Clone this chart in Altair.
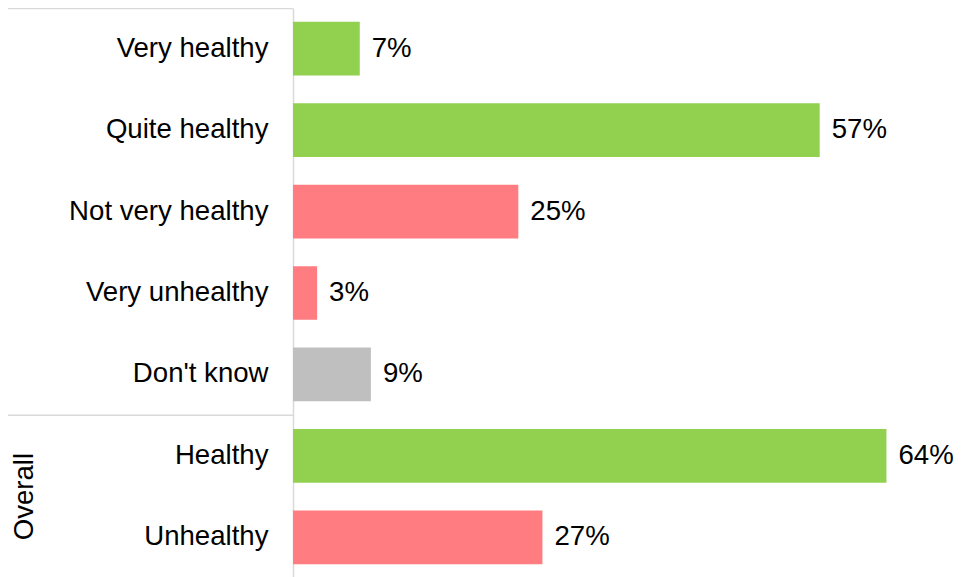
import altair as alt
import pandas as pd

categories = ["Very healthy", "Quite healthy", "Not very healthy", "Very unhealthy",
              "Don't know", "Healthy", "Unhealthy"]
values = [7.2, 56.8, 24.3, 2.6, 8.4, 64.0, 26.9]
labels = ["7%", "57%", "25%", "3%", "9%", "64%", "27%"]
groups = ["positive", "positive", "negative", "negative", "neutral", "positive", "negative"]

group_names = ["positive", "negative", "neutral"]
group_colors = ["#92D050", "#FF7C80", "#BFBFBF"]

df = pd.DataFrame({"cat": categories, "val": values, "grp": groups, "lbl": labels})

W, H = 612, 570
step = H / len(categories)
FONT = "Liberation Sans"
FS = 27.6

y_enc = alt.Y("cat:N", sort=categories, title=None,
              scale=alt.Scale(paddingInner=0.34, paddingOuter=0.17),
              axis=alt.Axis(labelFontSize=FS, labelFont=FONT, labelColor="#000000",
                            labelPadding=25, ticks=False, domainColor="#D9D9D9",
                            domainWidth=1.5, labelLimit=400))
x_enc = alt.X("val:Q", scale=alt.Scale(domain=[0, 66]), axis=None)

base = alt.Chart(df)
bars = base.mark_bar().encode(
    y=y_enc, x=x_enc,
    color=alt.Color("grp:N", scale=alt.Scale(domain=group_names, range=group_colors), legend=None),
)
text = base.mark_text(align="left", baseline="middle", dx=12, fontSize=FS, font=FONT,
                      color="#000000").encode(y=y_enc, x=x_enc, text="lbl:N")

one = pd.DataFrame({"a": [0]})
top_line = alt.Chart(one).mark_rule(color="#D9D9D9", strokeWidth=1.5).encode(
    x=alt.value(-285), x2=alt.value(0), y=alt.value(0.5))
sep_line = alt.Chart(one).mark_rule(color="#D9D9D9", strokeWidth=1.5).encode(
    x=alt.value(-285), x2=alt.value(0), y=alt.value(5 * step))
overall = alt.Chart(pd.DataFrame({"t": ["Overall"]})).mark_text(
    angle=270, align="center", baseline="middle", fontSize=FS, font=FONT, color="#000000"
).encode(x=alt.value(-268), y=alt.value(6 * step), text="t:N")

chart = alt.layer(bars, text, top_line, sep_line, overall).properties(
    width=W, height=H,
    padding={"left": 285, "top": 0, "right": 49, "bottom": 0},
    autosize=alt.AutoSizeParams(type="none"),
).configure_view(stroke=None)

chart.save("out.html", embed_options={"renderer": "svg", "actions": False})
